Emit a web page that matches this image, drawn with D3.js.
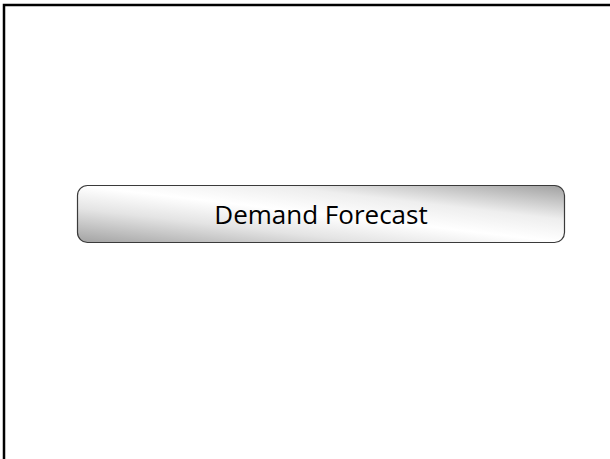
<!DOCTYPE html>
<html>
<head>
<meta charset="utf-8">
<script src="https://cdn.jsdelivr.net/npm/d3@7"></script>
<style>
  html, body { margin: 0; padding: 0; background: #fff; }
</style>
</head>
<body>
<div id="slide"></div>
<script>
// Slide title box

var titles = ["Demand Forecast"];
var gradStops = [
  { offset: "0%",   color: "#a2a2a2" },
  { offset: "30%",  color: "#e4e4e4" },
  { offset: "50%",  color: "#ffffff" },
  { offset: "70%",  color: "#eeeeee" },
  { offset: "100%", color: "#a0a0a0" }
];

var width = 610, height = 459;

var svg = d3.select('#slide').append('svg')
  .attr('width', width)
  .attr('height', height);

var defs = svg.append('defs');
var grad = defs.append('linearGradient')
  .attr('id', 'boxGrad')
  .attr('x1', 0).attr('y1', 1)
  .attr('x2', 1).attr('y2', 0);
grad.selectAll('stop')
  .data(gradStops)
  .enter().append('stop')
  .attr('offset', function(d) { return d.offset; })
  .attr('stop-color', function(d) { return d.color; });

// frame (top + left edges)
svg.append('path')
  .attr('d', 'M4,459 L4,5 L610,5')
  .style('fill', 'none')
  .style('stroke', '#000')
  .style('stroke-width', 2.5);

// box
var x = d3.scaleBand().domain(titles).range([77.5, 564.5]);

var g = svg.selectAll('.titleBox')
  .data(titles)
  .enter().append('g')
  .attr('class', 'titleBox');

g.append('rect')
  .attr('x', function(d) { return x(d); })
  .attr('y', 185.5)
  .attr('width', x.bandwidth())
  .attr('height', 57)
  .attr('rx', 10).attr('ry', 10)
  .style('fill', 'url(#boxGrad)')
  .style('stroke', '#3a3a3a')
  .style('stroke-width', 1.2);

g.append('text')
  .attr('x', function(d) { return x(d) + x.bandwidth() / 2; })
  .attr('y', 224)
  .style('text-anchor', 'middle')
  .style('font-family', '"Open Sans", sans-serif')
  .style('font-size', '26px')
  .style('fill', '#000')
  .text(function(d) { return d; });
</script>
</body>
</html>
